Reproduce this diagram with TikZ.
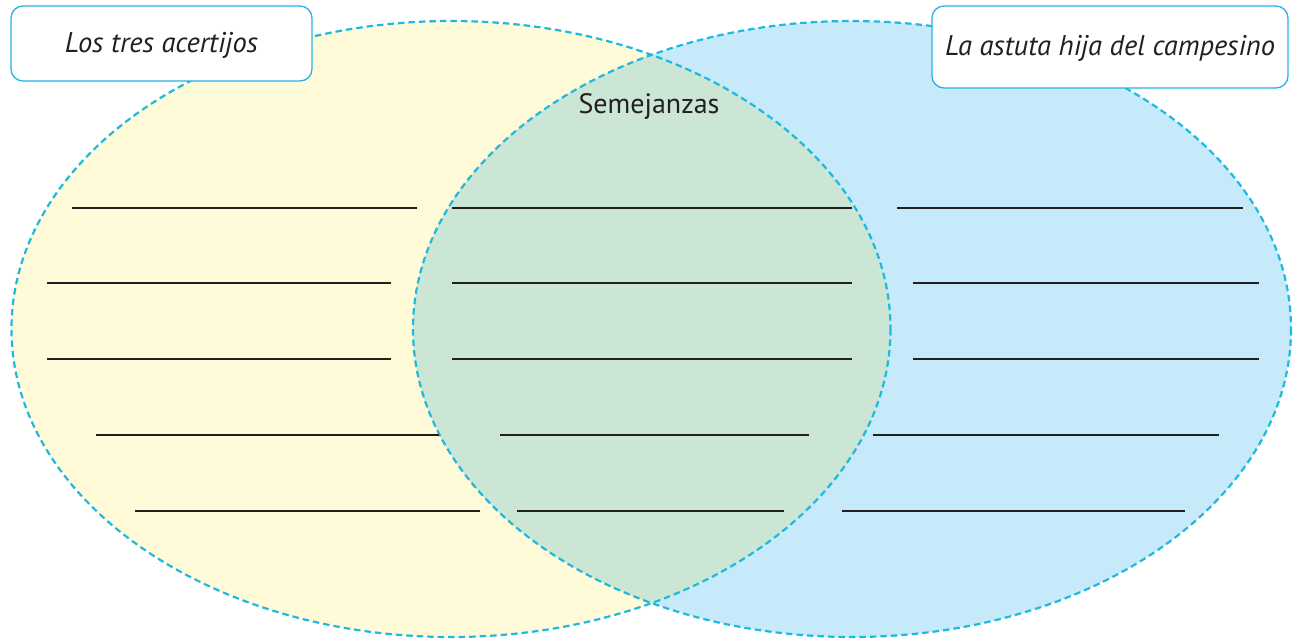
\documentclass[tikz,border=0pt]{standalone}
\usepackage{fontspec}
\newfontfamily\labfont{PT Sans}
\definecolor{venyellow}{RGB}{255,250,216}
\definecolor{venblue}{RGB}{198,234,250}
\definecolor{vengreen}{RGB}{203,230,212}
\definecolor{vendash}{RGB}{30,185,223}
\definecolor{boxedge}{RGB}{40,178,232}
\definecolor{lineink}{RGB}{35,31,32}
\begin{document}
\begin{tikzpicture}[x=1pt,y=-1pt,
  circedge/.style={draw=vendash,line width=2.2pt,dash pattern=on 6.5pt off 4pt},
  titlebox/.style={draw=boxedge,line width=1.3pt,fill=white,rounded corners=12pt},
  writeline/.style={draw=lineink,line width=1.3pt},
  titletext/.style={font=\labfont\itshape\fontsize{28.5}{32}\selectfont,text=lineink,inner sep=0pt},
  simtext/.style={font=\labfont\fontsize{28}{32}\selectfont,text=lineink,inner sep=0pt}]
\useasboundingbox (0,0) rectangle (1294,639);
% fills
\fill[venyellow] (451,329) ellipse [x radius=439.5, y radius=308];
\fill[venblue] (852,329) ellipse [x radius=439, y radius=308];
\begin{scope}
  \clip (451,329) ellipse [x radius=439.5, y radius=308];
  \fill[vengreen] (852,329) ellipse [x radius=439, y radius=308];
\end{scope}
% outlines
\draw[circedge] (451,329) ellipse [x radius=439.5, y radius=308];
\draw[circedge] (852,329) ellipse [x radius=439, y radius=308];
% title boxes
\draw[titlebox] (11,6) rectangle (312,81);
\draw[titlebox] (932,6) rectangle (1288,88);
\node[titletext] (lefttitle) at (161.5,45) {Los tres acertijos};
\node[titletext] (righttitle) at (1110,48) {La astuta hija del campesino};
\node[simtext] (sim) at (649,107) {Semejanzas};
% writing lines
\draw[writeline] (72,208) -- (417,208);
\draw[writeline] (452,208) -- (852,208);
\draw[writeline] (897,208) -- (1243,208);
\draw[writeline] (47,283) -- (391,283);
\draw[writeline] (452,283) -- (852,283);
\draw[writeline] (913,283) -- (1259,283);
\draw[writeline] (47,359) -- (391,359);
\draw[writeline] (452,359) -- (852,359);
\draw[writeline] (913,359) -- (1259,359);
\draw[writeline] (96,435) -- (439,435);
\draw[writeline] (500,435) -- (809,435);
\draw[writeline] (873,435) -- (1219,435);
\draw[writeline] (135,511) -- (480,511);
\draw[writeline] (517,511) -- (784,511);
\draw[writeline] (842,511) -- (1185,511);
\end{tikzpicture}
\end{document}
